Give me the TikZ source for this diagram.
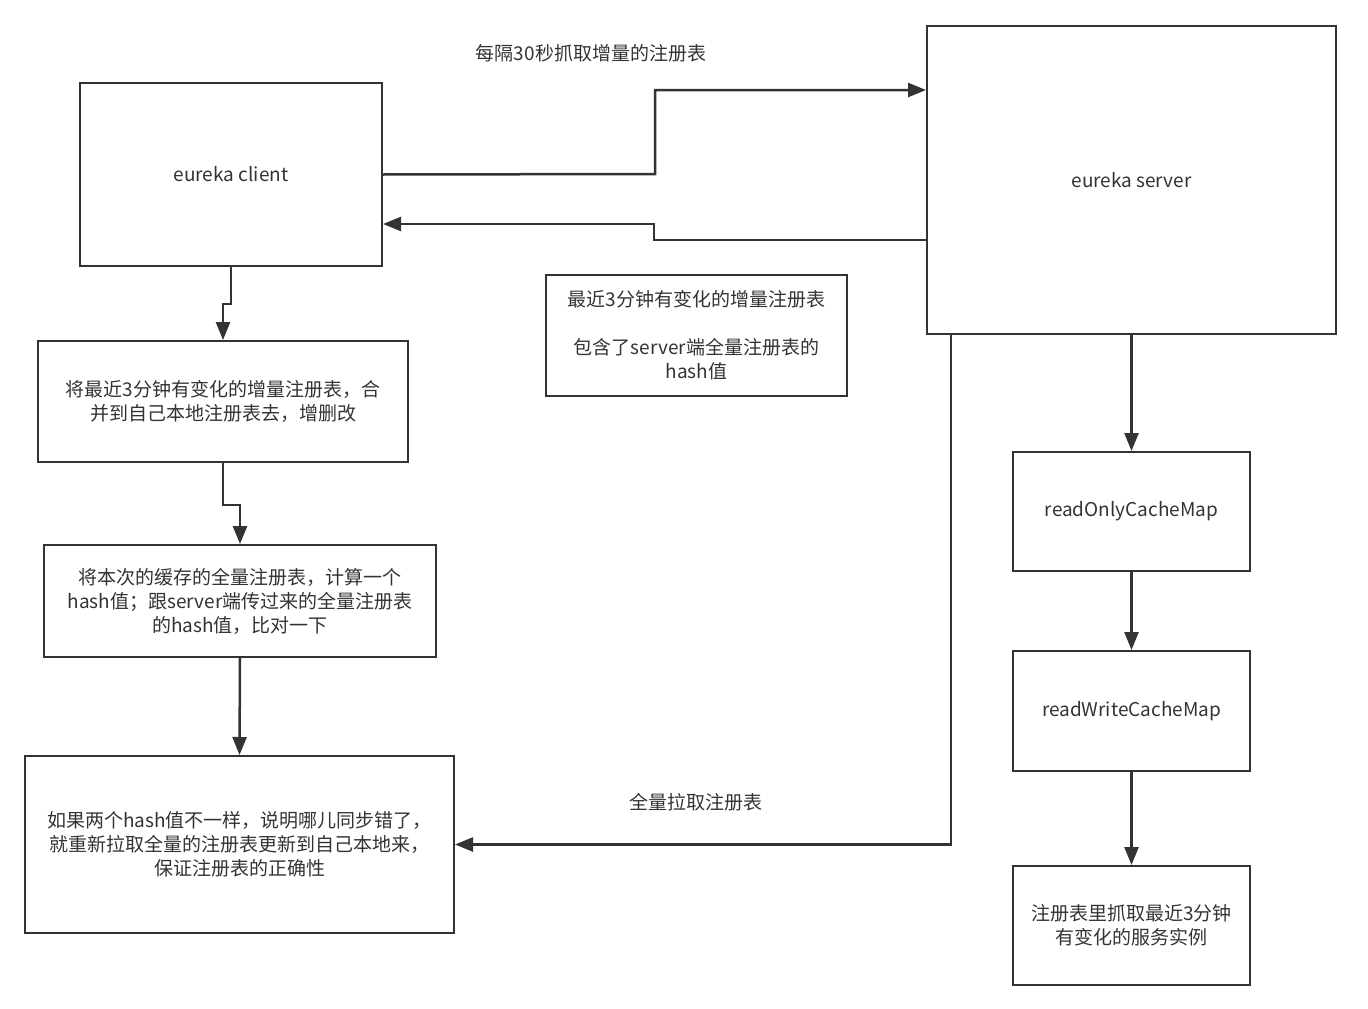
\documentclass[tikz,border=0pt]{standalone}
\usepackage{fontspec}
\setmainfont{Noto Sans CJK SC}
\usetikzlibrary{arrows.meta}
\definecolor{ink}{HTML}{333333}
\begin{document}
\begin{tikzpicture}[x=1pt, y=-1pt, >={Triangle[length=18pt,width=14pt]},
  every node/.style={text=ink, font=\fontsize{19}{24}\selectfont},
  box/.style={draw=ink, line width=2pt, align=center, inner sep=0pt},
  link/.style={->, draw=ink, line width=2.5pt}]
  \useasboundingbox (0,0) rectangle (1368,1009);
  % client side
  \node[box, minimum width=302pt, minimum height=183pt] (client) at (231,174.5) {eureka client};
  \node[box, minimum width=370pt, minimum height=121pt] (merge) at (223,401.5)
    {将最近3分钟有变化的增量注册表，合\\并到自己本地注册表去，增删改};
  \node[box, minimum width=392pt, minimum height=112pt] (hash) at (240,601)
    {将本次的缓存的全量注册表，计算一个\\hash值；跟server端传过来的全量注册表\\的hash值，比对一下};
  \node[box, minimum width=429pt, minimum height=177pt] (full) at (239.5,844.5)
    {如果两个hash值不一样，说明哪儿同步错了，\\就重新拉取全量的注册表更新到自己本地来，\\保证注册表的正确性};
  % server side
  \node[box, minimum width=409pt, minimum height=308pt] (server) at (1131.5,180) {eureka server};
  \node[box, minimum width=237pt, minimum height=119pt] (ro) at (1131.5,511.5) {readOnlyCacheMap};
  \node[box, minimum width=237pt, minimum height=120pt] (rw) at (1131.5,711) {readWriteCacheMap};
  \node[box, minimum width=237pt, minimum height=119pt] (recent) at (1131.5,925.5)
    {注册表里抓取最近3分钟\\有变化的服务实例};
  % labels
  \node (fetch) at (591,53) {每隔30秒抓取增量的注册表};
  \node[box, minimum width=301pt, minimum height=121pt] (delta) at (696.5,335.5)
    {最近3分钟有变化的增量注册表\\[24pt]包含了server端全量注册表的\\hash值};
  \node (pull) at (696,802) {全量拉取注册表};
  % connectors
  \draw[link] (client.east) -- (655,174) |- (server.west |- 0,90);
  \draw[link] (server.west |- 0,240) -- (654,240) |- (client.east |- 0,224);
  \draw[link] (client.south) -- ++(0,37) -| (merge.north);
  \draw[link] (merge.south) -- ++(0,42) -| (hash.north);
  \draw[link] (hash.south) -- (full.north);
  \draw[link] (server.south -| 951,0) |- (full.east);
  \draw[link] (server.south) -- (ro.north);
  \draw[link] (ro.south) -- (rw.north);
  \draw[link] (rw.south) -- (recent.north);
\end{tikzpicture}
\end{document}
